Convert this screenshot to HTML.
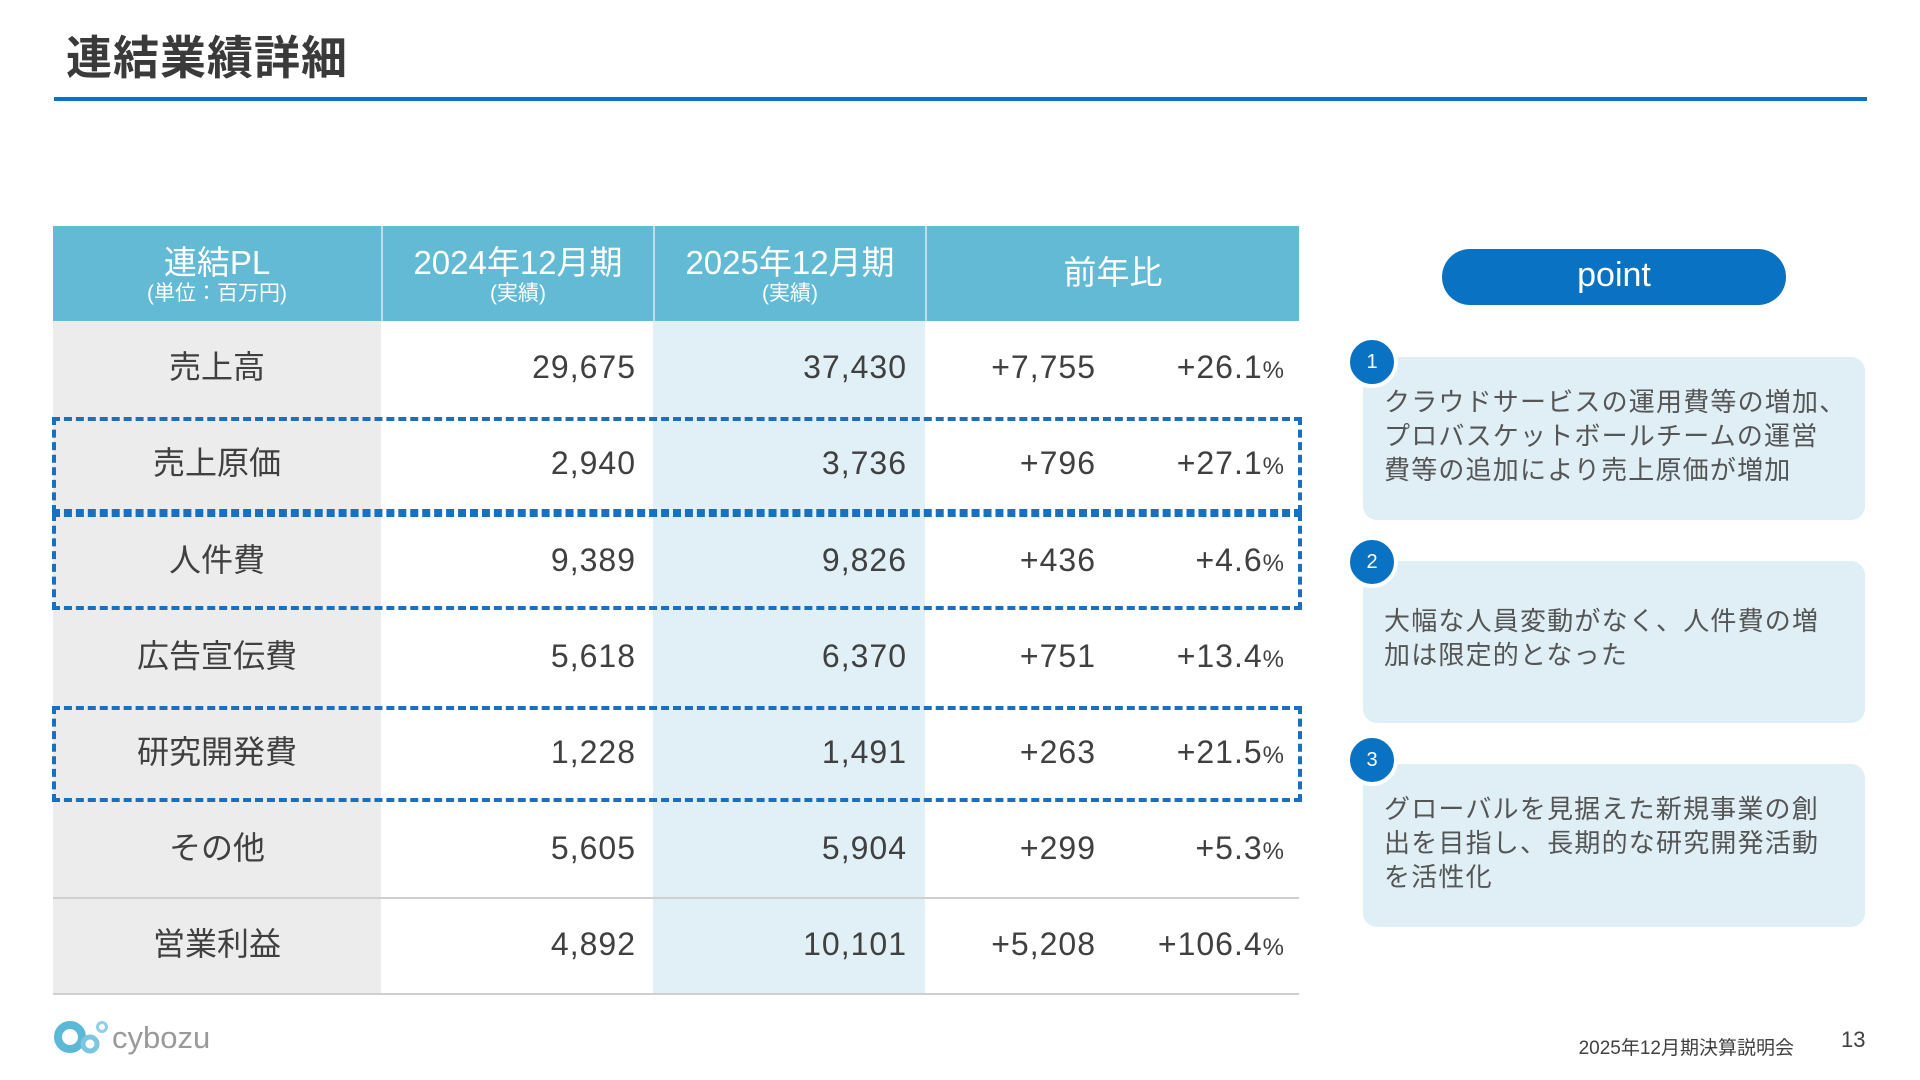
<!DOCTYPE html>
<html lang="ja">
<head>
<meta charset="utf-8">
<style>
  html,body{margin:0;padding:0;}
  body{width:1920px;height:1080px;position:relative;background:#fff;overflow:hidden;
    font-family:"Liberation Sans","Noto Sans CJK JP",sans-serif;color:#404040;}
  .abs{position:absolute;}
  #title{left:66px;top:22px;font-size:46px;font-weight:bold;color:#3a3a3a;letter-spacing:1px;}
  #rule{left:54px;top:97px;width:1813px;height:4px;background:#0a72c2;}
  #table{left:53px;top:226px;width:1246px;height:768px;}
  .hdr{position:absolute;top:0;height:95px;background:#63bad4;color:#fff;text-align:center;}
  .hdr .m{font-size:33px;line-height:38px;margin-top:18px;}
  .hdr .s{font-size:21px;line-height:24px;}
  .pt{left:1442px;top:249px;width:344px;height:56px;border-radius:28px;background:#0a72c2;color:#fff;
    font-size:34px;text-align:center;line-height:52px;}
  .box{position:absolute;left:1363px;width:502px;background:#dfeff5;border-radius:14px;}
  .box .t{position:absolute;left:21px;font-size:26px;line-height:34px;color:#555;width:490px;letter-spacing:1.2px;}
  .num{position:absolute;left:1346px;width:44px;height:44px;border-radius:50%;background:#0a72c2;
    border:4px solid #fff;color:#fff;font-size:20px;text-align:center;line-height:44px;}
</style>
</head>
<body>
<div id="title" class="abs">連結業績詳細</div>
<div id="rule" class="abs"></div>

<div id="table" class="abs">
  <div class="hdr" style="left:0;width:328px;"><div class="m">連結PL</div><div class="s">(単位：百万円)</div></div>
  <div class="hdr" style="left:330px;width:270px;"><div class="m">2024年12月期</div><div class="s">(実績)</div></div>
  <div class="hdr" style="left:602px;width:270px;"><div class="m">2025年12月期</div><div class="s">(実績)</div></div>
  <div class="hdr" style="left:874px;width:372px;"><div class="m" style="margin-top:28px;">前年比</div></div>
  <div style="position:absolute;left:328px;top:0;width:2px;height:95px;background:#b9dfea;"></div>
  <div style="position:absolute;left:600px;top:0;width:2px;height:95px;background:#b9dfea;"></div>
  <div style="position:absolute;left:872px;top:0;width:2px;height:95px;background:#b9dfea;"></div>
</div>

<div class="abs pt">point</div>

<div class="box" style="top:357px;height:163px;">
  <div class="t" style="top:28px;">クラウドサービスの運用費等の増加、<br>プロバスケットボールチームの運営<br>費等の追加により売上原価が増加</div>
</div>
<div class="num" style="top:336px;">1</div>
<div class="box" style="top:561px;height:162px;">
  <div class="t" style="top:43px;">大幅な人員変動がなく、人件費の増<br>加は限定的となった</div>
</div>
<div class="num" style="top:536px;">2</div>
<div class="box" style="top:764px;height:163px;">
  <div class="t" style="top:28px;">グローバルを見据えた新規事業の創<br>出を目指し、長期的な研究開発活動<br>を活性化</div>
</div>
<div class="num" style="top:734px;">3</div>

<svg class="abs" style="left:50px;top:1012px;" width="170" height="50">
  <circle cx="20" cy="25" r="12" fill="none" stroke="#5bb8d6" stroke-width="8"/>
  <circle cx="40" cy="32" r="7" fill="none" stroke="#7cc6df" stroke-width="5"/>
  <circle cx="52" cy="15" r="4.5" fill="none" stroke="#8fd0e6" stroke-width="3"/>
  <text x="62" y="36" font-family="Liberation Sans, sans-serif" font-size="31" fill="#9a9a9a">cybozu</text>
</svg>
<div class="abs" style="right:126px;top:1033px;font-size:19px;color:#404040;">2025年12月期決算説明会</div>
<div class="abs" style="left:1841px;top:1027px;font-size:22px;color:#404040;">13</div>

<script>
const categories = ["売上高","売上原価","人件費","広告宣伝費","研究開発費","その他","営業利益"];
const fy2024 = ["29,675","2,940","9,389","5,618","1,228","5,605","4,892"];
const fy2025 = ["37,430","3,736","9,826","6,370","1,491","5,904","10,101"];
const yoyDiff = ["+7,755","+796","+436","+751","+263","+299","+5,208"];
const yoyPct = ["+26.1%","+27.1%","+4.6%","+13.4%","+21.5%","+5.3%","+106.4%"];
const highlighted = [false,true,true,false,true,false,false];

const table = document.getElementById('table');
const headerH = 95, rowH = 96.2;
function rowTop(i){ return headerH + i*rowH; }
function mk(style, text){
  const d = document.createElement('div');
  d.style.cssText = style;
  if (text !== undefined) d.textContent = text;
  table.appendChild(d);
  return d;
}
const numStyle = 'position:absolute;font-size:32px;line-height:34px;letter-spacing:1px;';
categories.forEach((c,i)=>{
  const y = rowTop(i);
  const bg1 = mk(`position:absolute;left:0;top:${y}px;width:328px;height:${rowH}px;background:#ececec;`);
  
  
  const bg3 = mk(`position:absolute;left:600px;top:${y}px;width:272px;height:${rowH}px;background:#e0f0f6;`);
  
  
  const ty = y + rowH/2 - 19;
  const l = mk(`position:absolute;left:0;width:328px;text-align:center;top:${ty}px;font-size:32px;line-height:34px;`, c);
  
  
  const a = mk(numStyle + `right:${1246-583}px;top:${ty}px;`, fy2024[i]);
  
  
  const b = mk(numStyle + `right:${1246-854}px;top:${ty}px;`, fy2025[i]);
  
  
  const d = mk(numStyle + `right:${1246-1043}px;top:${ty}px;`, yoyDiff[i]);
  
  
  const pv = yoyPct[i].replace('%','');
  const p = mk(numStyle + `right:${1246-1232}px;top:${ty}px;`);
  p.innerHTML = pv + '<span style="font-size:24px;">%</span>';
  
  
});
[rowTop(6)-1, rowTop(7)-1].forEach(y=>{
  const s = mk(`position:absolute;left:0;top:${y}px;width:1246px;height:2px;background:#cfcfcf;`);
  
  
});
highlighted.forEach((h,i)=>{
  if(!h) return;
  const y = rowTop(i);
  const box = mk(`position:absolute;left:-1px;top:${y}px;width:1242px;height:${rowH-8}px;border:4px dashed #1a6fc0;`);
  
  
});
</script>
</body>
</html>
